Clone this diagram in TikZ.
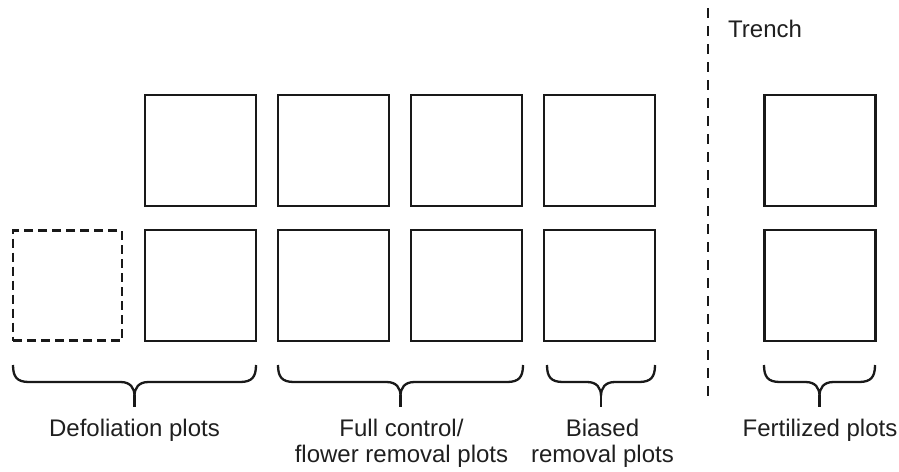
\documentclass[tikz,border=0pt]{standalone}
\usepackage{fontspec}
\setmainfont{Liberation Sans}
\begin{document}
\begin{tikzpicture}[x=1pt,y=-1pt,
  plotbox/.style={draw=black!90,line width=2.4pt,minimum width=111pt,minimum height=111pt,inner sep=0pt},
  ghostbox/.style={plotbox,minimum width=109pt,minimum height=110pt,dash pattern=on 9pt off 5pt},
  bracestyle/.style={draw=black!90,line width=2.3pt},
  trenchline/.style={draw=black!90,line width=2.8pt,dash pattern=on 10pt off 8pt},
  lbl/.style={font=\fontsize{24}{26}\selectfont,text=black!88,inner sep=0pt,anchor=base,align=center}]
\useasboundingbox (0,0) rectangle (899,471);
% plots
\node[ghostbox] (d0) at (67.5,285.5) {};
\node[plotbox] (a1) at (200.5,150.5) {};
\node[plotbox] (b1) at (200.5,285.5) {};
\node[plotbox] (a2) at (333.5,150.5) {};
\node[plotbox] (b2) at (333.5,285.5) {};
\node[plotbox] (a3) at (466.5,150.5) {};
\node[plotbox] (b3) at (466.5,285.5) {};
\node[plotbox] (a4) at (599.5,150.5) {};
\node[plotbox] (b4) at (599.5,285.5) {};
\node[plotbox] (f1) at (820,150.5) {};
\node[plotbox] (f2) at (820,285.5) {};
% trench
\coordinate (t0) at (708,8);
\coordinate (t1) at (708,403);
\draw[trenchline] (t0) -- (t1);
\node[lbl,anchor=base west] (trench) at (728,37) {Trench};
% braces
\newcommand\plotbrace[2]{%
  \draw[bracestyle] (#1,365) .. controls (#1,377) and ({#1+4},382) .. ({#1+16},382)
    -- ({(#1+#2)/2-14},382) .. controls ({(#1+#2)/2-4},382) and ({(#1+#2)/2},388) .. ({(#1+#2)/2},396)
    .. controls ({(#1+#2)/2},388) and ({(#1+#2)/2+4},382) .. ({(#1+#2)/2+14},382)
    -- ({#2-16},382) .. controls ({#2-4},382) and (#2,377) .. (#2,365);
  \draw[bracestyle] ({(#1+#2)/2},395) -- ({(#1+#2)/2},407);}
\plotbrace{13}{256}
\plotbrace{278}{523}
\plotbrace{547}{655}
\plotbrace{764}{875}
% labels
\node[lbl] (ldef) at (134.5,436) {Defoliation plots};
\node[lbl] (lfull) at (401.5,462) {Full control/\\flower removal plots};
\node[lbl] (lbias) at (602.5,462) {Biased\\removal plots};
\node[lbl] (lfert) at (820,436) {Fertilized plots};
\end{tikzpicture}
\end{document}
